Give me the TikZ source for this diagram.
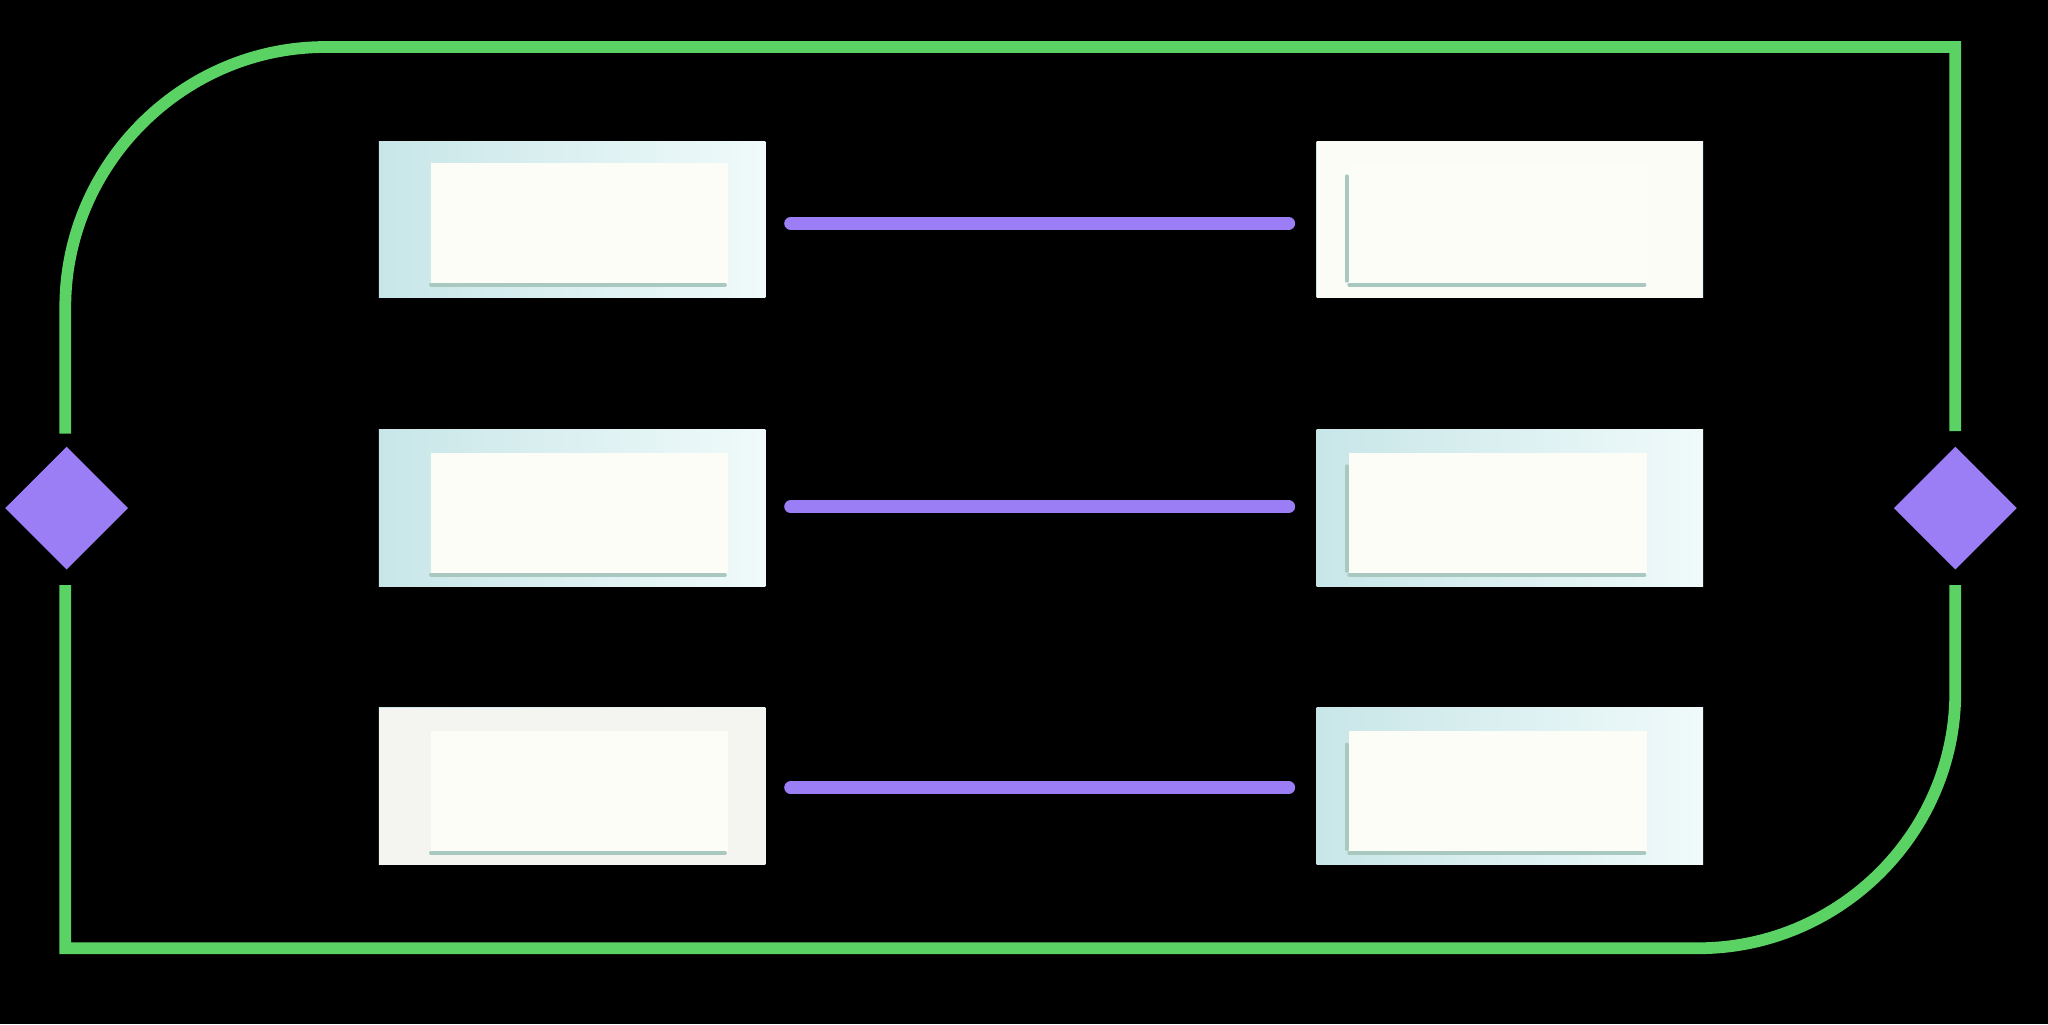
\documentclass[tikz,border=0pt]{standalone}
\definecolor{gr}{RGB}{90,210,100}
\definecolor{pu}{RGB}{155,125,245}
\definecolor{cyA}{RGB}{200,230,232}
\definecolor{cyB}{RGB}{240,250,250}
\definecolor{iw}{RGB}{253,253,248}
\definecolor{ed}{RGB}{168,200,192}
\definecolor{gy}{RGB}{244,244,240}
\definecolor{wb}{RGB}{252,252,246}
\begin{document}
\begin{tikzpicture}[x=0.5pt,y=-0.5pt,
  grn/.style={draw=gr, line width=4.5pt},
  dia/.style={fill=pu},
  conn/.style={draw=pu, line width=5pt, line cap=round},
  box/.style={left color=cyA, right color=cyB},
  inner/.style={fill=iw},
  edge/.style={draw=ed, line width=1.5pt, line cap=round}]
\fill[black] (0,0) rectangle (1568,784);
\useasboundingbox (0,0) rectangle (1568,784);
\draw[grn] (50,332) -- (50,235) .. controls (50,126) and (140,36) .. (249,36) -- (1497,36) -- (1497,330);
\draw[grn] (1497,448) -- (1497,530) .. controls (1497,638) and (1408,726) .. (1300,726) -- (50,726) -- (50,448);
\fill[dia] (51,342) -- (98,389) -- (51,436) -- (4,389) -- cycle;
\fill[dia] (1497,342) -- (1544,389) -- (1497,436) -- (1450,389) -- cycle;
\foreach \x/\y in {290/108,290/329,290/542,1008/108,1008/329,1008/542}{
  \fill[box] (\x,\y) rectangle +(296,120);
}
\fill[gy] (290,542) rectangle +(296,120);
\fill[wb] (1008,108) rectangle +(294,120);
\foreach \x/\y in {330/125,330/347,330/560}{
  \fill[inner] (\x,\y) rectangle +(227,93);
  \draw[edge] (\x,\y+93) -- +(225,0);
}
\foreach \x/\y in {1033/125,1033/347,1033/560}{
  \fill[inner] (\x,\y) rectangle +(228,93);
  \draw[edge] (\x,\y+93) -- +(226,0);
  \draw[edge] (\x-2,\y+10) -- (\x-2,\y+90);
}
\node[inner sep=0] (la) at (604,171) {}; \node[inner sep=0] (ra) at (988,171) {};
\node[inner sep=0] (lb) at (604,388) {}; \node[inner sep=0] (rb) at (988,388) {};
\node[inner sep=0] (lc) at (604,603) {}; \node[inner sep=0] (rc) at (988,603) {};
\draw[conn] (la) -- (ra); \draw[conn] (lb) -- (rb); \draw[conn] (lc) -- (rc);
\end{tikzpicture}
\end{document}
